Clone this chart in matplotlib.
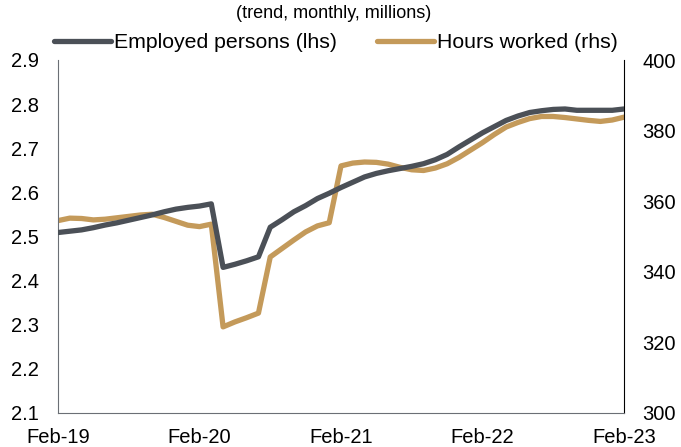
import numpy as np
import matplotlib
matplotlib.use("Agg")
import matplotlib.pyplot as plt

plt.rcParams['font.family'] = ['Liberation Sans', 'DejaVu Sans']

# monthly, Feb-19 .. Feb-23
months = ["Feb-19", "Feb-20", "Feb-21", "Feb-22", "Feb-23"]
employed = [2.509, 2.512, 2.515, 2.520, 2.526, 2.531, 2.537, 2.543, 2.549, 2.556,
            2.562, 2.566, 2.569, 2.574, 2.430, 2.437, 2.445, 2.454, 2.521, 2.538,
            2.556, 2.570, 2.586, 2.598, 2.611, 2.623, 2.635, 2.643, 2.649, 2.654,
            2.659, 2.665, 2.674, 2.686, 2.703, 2.719, 2.735, 2.749, 2.763, 2.773,
            2.781, 2.785, 2.788, 2.789, 2.786, 2.786, 2.786, 2.786, 2.789]
hours = [354.5, 355.2, 355.1, 354.7, 354.9, 355.3, 355.7, 356.1, 356.3, 355.4,
         354.3, 353.2, 352.8, 353.5, 324.4, 325.8, 327.0, 328.3, 344.2, 346.6,
         349.0, 351.3, 353.0, 353.9, 370.0, 370.8, 371.1, 371.0, 370.5, 369.6,
         368.9, 368.7, 369.4, 370.6, 372.4, 374.5, 376.6, 378.9, 381.0, 382.3,
         383.4, 384.0, 384.0, 383.7, 383.3, 382.9, 382.6, 383.0, 383.8]
left_ticks = [2.1, 2.2, 2.3, 2.4, 2.5, 2.6, 2.7, 2.8, 2.9]
right_ticks = [300, 320, 340, 360, 380, 400]

grey = "#4b5057"
gold = "#c49a5a"

x = np.arange(len(employed))

fig = plt.figure(figsize=(6.81, 4.47), dpi=100)
ax = fig.add_axes([58 / 681, 34 / 447, 566 / 681, 353 / 447])
ax2 = ax.twinx()

l1, = ax.plot(x, employed, color=grey, lw=3.8, solid_capstyle='round', zorder=3)
l2, = ax2.plot(x, hours, color=gold, lw=3.8, solid_capstyle='round')
ax.set_zorder(ax2.get_zorder() + 1)
ax.patch.set_visible(False)

ax.set_xlim(0, 48)
ax.set_ylim(2.1, 2.9)
ax2.set_ylim(300, 400)
ax.set_xticks(np.arange(0, 49, 12))
ax.set_xticklabels(months)
ax.set_yticks(left_ticks)
ax.set_yticklabels([f"{v:.1f}" for v in left_ticks])
ax2.set_yticks(right_ticks)

ax.tick_params(axis='both', length=0, labelsize=14.5)
ax.tick_params(axis='x', pad=11)
ax.tick_params(axis='y', pad=14)
ax2.tick_params(axis='y', length=0, labelsize=14.5, pad=13)

for a in (ax, ax2):
    a.spines['top'].set_visible(False)
ax.spines['left'].set_color("#6b6f75")
ax.spines['bottom'].set_color("#6b6f75")
ax.spines['right'].set_visible(False)
ax2.spines['left'].set_visible(False)
ax2.spines['bottom'].set_visible(False)
ax2.spines['right'].set_color("black")

fig.text(0.49, 1 - 14 / 447, "(trend, monthly, millions)", ha='center', va='center', fontsize=13)

fig.legend([l1, l2], ["Employed persons (lhs)", "Hours worked (rhs)"],
           loc='center', bbox_to_anchor=(336 / 681, 1 - 43 / 447), ncol=2,
           frameon=False, fontsize=15.3, handlelength=2.7, handletextpad=0.15,
           columnspacing=1.85, borderpad=0, borderaxespad=0)

fig.savefig("out.png", dpi=100)
